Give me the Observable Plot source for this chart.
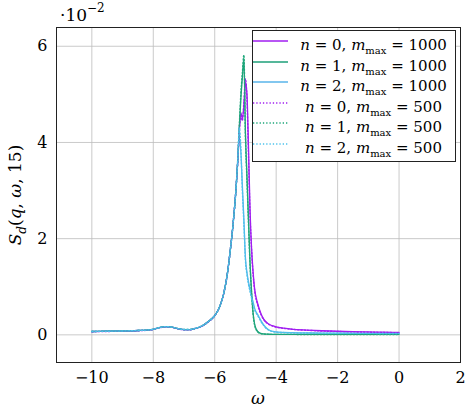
<!DOCTYPE html>
<html>
<head>
<meta charset="utf-8">
<script src="https://cdn.jsdelivr.net/npm/d3@7"></script>
<script src="https://cdn.jsdelivr.net/npm/@observablehq/plot@0.6"></script>
<style>
  body { margin: 0; background: white; }
  #wrap { position: relative; width: 472px; height: 411px; font-family: "DejaVu Serif", "Liberation Serif", serif; color: black; }
  #wrap svg { position: absolute; left: 0; top: 0; }
  .exp { position: absolute; left: 60px; top: 0px; font-size: 17px; line-height: 20px; }
  .exp sup { font-size: 12px; position: relative; top: -2px; }
  .ylab { position: absolute; left: 17px; top: 195px; font-size: 17px; white-space: nowrap; transform: translate(-50%, -50%) rotate(-90deg); }
  .ylab sub { font-size: 12px; }
  .xlab { position: absolute; left: 258px; top: 398px; font-size: 17px; transform: translate(-50%, -50%); }
  #legend { position: absolute; left: 252px; top: 30px; width: 204px; height: 132px; border: 1px solid #222; background: white; box-sizing: border-box; }
  .row { position: absolute; left: 0; height: 20px; width: 100%; }
  .row svg { position: absolute; left: 6px; top: 4px; }
  .row span { position: absolute; left: 45px; right: 6px; top: 0; text-align: center; font-size: 15px; line-height: 20px; white-space: nowrap; }
  .row sub { font-size: 10px; }
</style>
</head>
<body>
<div id="wrap">
  <div class="exp">·10<sup>−2</sup></div>
  <div class="ylab"><i>S</i><sub><i>d</i></sub>(<i>q</i>, <i>ω</i>, 15)</div>
  <div class="xlab"><i>ω</i></div>
  <div id="legend"></div>
</div>
<script>
// Frequency grid (denser around the main peak)
const omega = [-10, -9.5, -9, -8.5, -8.2, -8, -7.8, -7.6, -7.4, -7.2, -7, -6.8, -6.6, -6.4, -6.2, -6,
  -5.9, -5.8, -5.7, -5.6, -5.5, -5.4, -5.3, -5.25, -5.2, -5.15, -5.1, -5.05, -5.0, -4.95, -4.9, -4.85,
  -4.8, -4.75, -4.7, -4.6, -4.5, -4.4, -4.3, -4.2, -4.1, -4, -3.75, -3.5, -3, -2.5, -2, -1.5, -1, -0.5, 0];

// S_d(q, ω, 15) in units of 1e-2
const n0m1000 = [0.07, 0.075, 0.08, 0.09, 0.10, 0.115, 0.15, 0.17, 0.16, 0.13, 0.11, 0.11, 0.14, 0.19, 0.28, 0.40,
  0.50, 0.65, 0.88, 1.22, 1.72, 2.32, 3.1, 3.62, 4.25, 4.62, 4.50, 4.75, 5.25, 5.0, 3.9, 2.6,
  1.8, 1.3, 0.95, 0.65, 0.45, 0.32, 0.25, 0.21, 0.185, 0.165, 0.14, 0.12, 0.10, 0.085, 0.075, 0.067, 0.06, 0.055, 0.05];
const n1m1000 = [0.07, 0.075, 0.08, 0.09, 0.10, 0.115, 0.15, 0.17, 0.16, 0.13, 0.11, 0.11, 0.14, 0.19, 0.28, 0.40,
  0.50, 0.65, 0.88, 1.22, 1.72, 2.32, 3.1, 3.62, 4.3, 4.9, 5.35, 5.72, 4.2, 3.3, 2.4, 1.5,
  0.9, 0.45, 0.22, 0.07, 0.03, 0.02, 0.015, 0.012, 0.011, 0.01, 0.01, 0.01, 0.01, 0.01, 0.01, 0.01, 0.01, 0.01, 0.01];
const n2m1000 = [0.07, 0.075, 0.08, 0.09, 0.10, 0.115, 0.15, 0.17, 0.16, 0.13, 0.11, 0.11, 0.14, 0.19, 0.28, 0.40,
  0.50, 0.65, 0.88, 1.22, 1.72, 2.32, 3.1, 3.62, 4.1, 3.8, 3.1, 2.4, 1.6, 1.3, 1.1, 0.95,
  0.8, 0.68, 0.55, 0.42, 0.3, 0.2, 0.13, 0.09, 0.07, 0.06, 0.05, 0.045, 0.04, 0.037, 0.035, 0.033, 0.032, 0.031, 0.03];
const n0m500 = [0.065, 0.07, 0.075, 0.085, 0.095, 0.11, 0.145, 0.165, 0.155, 0.125, 0.105, 0.105, 0.135, 0.185, 0.275, 0.395,
  0.50, 0.65, 0.88, 1.22, 1.72, 2.32, 3.1, 3.6, 4.2, 4.55, 4.45, 4.85, 5.32, 4.9, 3.7, 2.5,
  1.75, 1.25, 0.92, 0.62, 0.43, 0.31, 0.245, 0.205, 0.18, 0.16, 0.135, 0.115, 0.095, 0.08, 0.07, 0.062, 0.056, 0.05, 0.045];
const n1m500 = [0.07, 0.075, 0.08, 0.09, 0.10, 0.115, 0.15, 0.17, 0.16, 0.13, 0.11, 0.11, 0.14, 0.19, 0.28, 0.40,
  0.50, 0.65, 0.88, 1.22, 1.72, 2.32, 3.1, 3.65, 4.35, 5.0, 5.45, 5.82, 4.1, 3.2, 2.3, 1.45,
  0.85, 0.42, 0.2, 0.06, 0.025, 0.015, 0.012, 0.01, 0.01, 0.009, 0.009, 0.009, 0.008, 0.008, 0.008, 0.008, 0.008, 0.008, 0.008];
const n2m500 = [0.07, 0.075, 0.08, 0.09, 0.10, 0.115, 0.15, 0.17, 0.16, 0.13, 0.11, 0.11, 0.14, 0.19, 0.28, 0.40,
  0.50, 0.65, 0.88, 1.22, 1.72, 2.32, 3.1, 3.65, 4.3, 3.9, 3.0, 2.3, 1.55, 1.25, 1.05, 0.9,
  0.76, 0.64, 0.52, 0.4, 0.28, 0.19, 0.12, 0.085, 0.065, 0.055, 0.047, 0.042, 0.038, 0.035, 0.033, 0.031, 0.03, 0.029, 0.028];

const xTicks = [-10, -8, -6, -4, -2, 0, 2];
const yTicks = [0, 2, 4, 6];

const series = [
  {n: 0, m: 1000, values: n0m1000, color: "#a01ef0", dash: null},
  {n: 1, m: 1000, values: n1m1000, color: "#1c9f78", dash: null},
  {n: 2, m: 1000, values: n2m1000, color: "#58b4ea", dash: null},
  {n: 0, m: 500, values: n0m500, color: "#a01ef0", dash: "1.3 2"},
  {n: 1, m: 500, values: n1m500, color: "#1ea77a", dash: "1.3 2"},
  {n: 2, m: 500, values: n2m500, color: "#4cc2ec", dash: "1.3 2"}
];

const lineMarks = series.map(s =>
  Plot.line(omega.map((w, i) => ({omega: w, S: s.values[i]})), {
    x: "omega", y: "S", stroke: s.color, strokeWidth: s.dash ? 1.4 : 1.3,
    strokeDasharray: s.dash, curve: "monotone-x"
  })
);

const chart = Plot.plot({
  width: 472,
  height: 411,
  marginLeft: 56,
  marginRight: 12,
  marginTop: 27,
  marginBottom: 49,
  style: {fontFamily: "'DejaVu Serif', 'Liberation Serif', serif", fontSize: "16px", background: "white", color: "black", overflow: "visible"},
  x: {domain: [-11.15, 2], label: null},
  y: {domain: [-0.575, 6.39], label: null},
  marks: [
    Plot.gridX(xTicks, {stroke: "#bdbdbd", strokeOpacity: 1, strokeWidth: 0.8}),
    Plot.gridY(yTicks, {stroke: "#bdbdbd", strokeOpacity: 1, strokeWidth: 0.8}),
    Plot.axisX(xTicks, {tickSize: 0, tickPadding: 9, label: null, tickFormat: d3.format("d")}),
    Plot.axisY(yTicks, {tickSize: 0, tickPadding: 9, label: null}),
    ...lineMarks,
    Plot.frame({stroke: "#222", strokeWidth: 1})
  ]
});
document.getElementById("wrap").prepend(chart);

// Legend
const legend = document.getElementById("legend");
series.forEach((s, i) => {
  const row = document.createElement("div");
  row.className = "row";
  row.style.top = (4 + i * 20.6) + "px";
  row.innerHTML =
    `<svg width="36" height="12"><line x1="0" y1="6" x2="35" y2="6" stroke="${s.color}" stroke-width="${s.dash ? 1.4 : 1.3}"${s.dash ? ` stroke-dasharray="${s.dash}"` : ""}/></svg>` +
    `<span><i>n</i> = ${s.n}, <i>m</i><sub>max</sub> = ${s.m}</span>`;
  legend.appendChild(row);
});
</script>
</body>
</html>
